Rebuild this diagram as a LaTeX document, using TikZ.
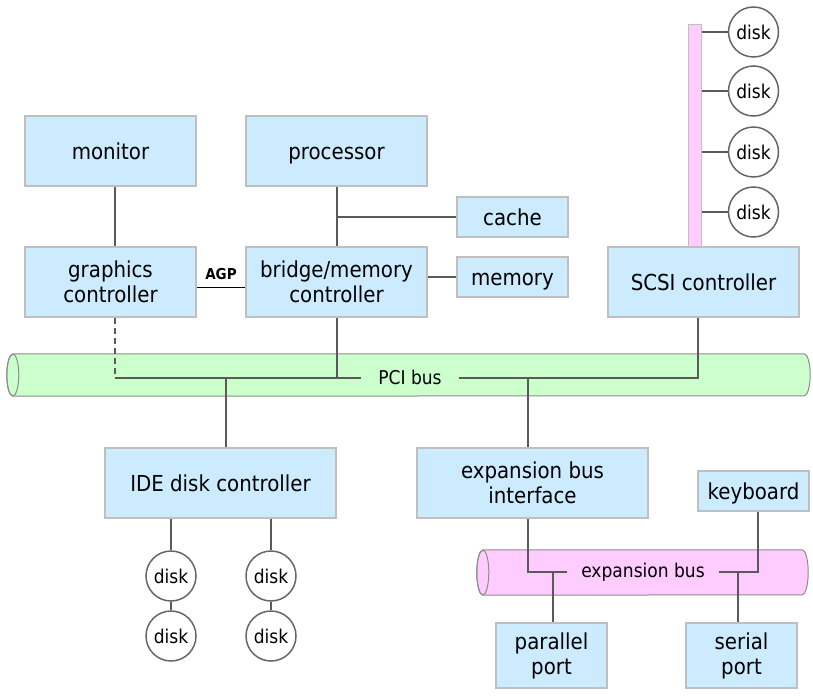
\documentclass[tikz,border=0pt]{standalone}
\usepackage{fontspec}
\setmainfont{DejaVu Sans Condensed}
\definecolor{boxfill}{HTML}{CCEBFF}
\definecolor{boxline}{HTML}{BFBFBF}
\definecolor{wireline}{HTML}{5A5A5A}
\definecolor{pcifill}{HTML}{CCFFCC}
\definecolor{pinkfill}{HTML}{FFCCFF}
\definecolor{busline}{HTML}{8C8C8C}
\definecolor{diskline}{HTML}{666666}
\tikzset{
  hwbox/.style={draw=boxline, line width=2pt, fill=boxfill, align=center, inner sep=0pt, font=\fontsize{22}{25}\selectfont},
  oneline/.style={text height=16pt, text depth=0pt},
  disk/.style={circle, draw=diskline, line width=1.5pt, fill=white, minimum size=50pt, inner sep=0pt, font=\fontsize{19}{22}\selectfont},
  wire/.style={draw=wireline, line width=2pt},
  busbody/.style={inner sep=0pt, minimum width=#1},
  buslabel/.style={inner ysep=1pt, font=\fontsize{19}{22}\selectfont}
}
\begin{document}
\begin{tikzpicture}[x=1pt,y=-1pt]
      \useasboundingbox (0,0) rectangle (813,698);
      \node[busbody=791pt, minimum height=42pt] (pci) at (408.5,375) {};
      \node[busbody=319pt, minimum height=45pt] (xbus) at (642.5,572.5) {};
      \foreach \b/\c/\r in {pci/pcifill/21pt, xbus/pinkfill/22.5pt}
        {\filldraw[draw=busline, fill=\c, line width=1pt]
           (\b.north west) -- (\b.north east) arc[start angle=90, end angle=-90, x radius=6pt, y radius=\r]
           -- (\b.south west) arc[start angle=270, end angle=90, x radius=6pt, y radius=\r] -- cycle;
         \draw[busline, line width=1pt] (\b.west) ellipse[x radius=6pt, y radius=\r];}
      \node[draw=boxline, fill=pinkfill, line width=1pt, minimum width=13pt, minimum height=222pt, inner sep=0pt] (scsibus) at (694.5,136) {};
      \node[hwbox, oneline, minimum width=171pt, minimum height=70pt] (mon) at (110.5,151) {monitor};
      \node[hwbox, oneline, minimum width=181pt, minimum height=70pt] (cpu) at (336.5,151) {processor};
      \node[hwbox, oneline, minimum width=111pt, minimum height=40pt] (cache) at (512.5,217) {cache};
      \node[hwbox, oneline, minimum width=111pt, minimum height=40pt] (mem) at (512.5,277) {memory};
      \node[hwbox, minimum width=171pt, minimum height=70pt] (gfx) at (110.5,282) {graphics\\controller};
      \node[hwbox, minimum width=181pt, minimum height=70pt] (bmc) at (336.5,282) {bridge/memory\\controller};
      \node[hwbox, oneline, minimum width=191pt, minimum height=70pt] (scsi) at (703.5,282) {SCSI controller};
      \node[hwbox, oneline, minimum width=231pt, minimum height=70pt] (ide) at (220.5,483) {IDE disk controller};
      \node[hwbox, minimum width=231pt, minimum height=70pt] (ebi) at (532.5,483) {expansion bus\\interface};
      \node[hwbox, oneline, minimum width=111pt, minimum height=40pt] (kbd) at (753.5,491) {keyboard};
      \node[hwbox, minimum width=111pt, minimum height=65pt] (par) at (551.5,655.5) {parallel\\port};
      \node[hwbox, minimum width=111pt, minimum height=65pt] (ser) at (741.5,655.5) {serial\\port};
      \coordinate (pciL) at (115,378);
      \coordinate (pciR) at (698,378);
      \coordinate (ideJ) at (226,378);
      \coordinate (ebiJ) at (528,378);
      \coordinate (xL) at (528,572);
      \coordinate (xR) at (758,572);
      \coordinate (parJ) at (553,572);
      \coordinate (serJ) at (738,572);
      \draw[wire] (mon.south -| pciL) -- (gfx.north -| pciL);
      \draw[wire] (cpu) -- (bmc);
      \draw[wire] (cpu.south |- cache) -- (cache);
      \draw[wire] (bmc.east |- mem) -- (mem);
      \draw[line width=1pt] ([yshift=-5pt]gfx.east) -- ([yshift=-5pt]bmc.west)
        node[midway, above=3pt, font=\bfseries\fontsize{15}{18}\selectfont] (agp) {AGP};
      \draw[wire, dash pattern=on 6pt off 4pt] (gfx.south -| pciL) -- (pciL);
      \draw[wire] (pciL) -- (pciR) -- (pciR |- scsi.south);
      \draw[wire] (bmc) -- (bmc |- pciL);
      \draw[wire] (ideJ) -- (ideJ |- ide.north);
      \draw[wire] (ebiJ) -- (ebiJ |- ebi.north);
      \node[buslabel, fill=pcifill, inner xsep=17pt] (pcitxt) at (410,377) {PCI bus};
      \draw[wire] (xL |- ebi.south) -- (xL) -- (xR) -- (xR |- kbd.south);
      \draw[wire] (parJ) -- (parJ |- par.north);
      \draw[wire] (serJ) -- (serJ |- ser.north);
      \node[buslabel, fill=pinkfill, inner xsep=14pt] (xtxt) at (643,572) {expansion bus};
      \foreach \y [count=\i] in {32,91,152,212}
        {\node[disk] (sd\i) at (753.5,\y) {disk};
         \draw[wire, line width=1.5pt] (scsibus.east |- sd\i) -- (sd\i);}
      \foreach \x [count=\i] in {171,271}
        {\node[disk] (ida\i) at (\x,576) {disk};
         \node[disk] (idb\i) at (\x,636) {disk};
         \draw[wire] (ide.south -| ida\i) -- (ida\i);
         \draw[wire] (ida\i) -- (idb\i);}
\end{tikzpicture}
\end{document}
